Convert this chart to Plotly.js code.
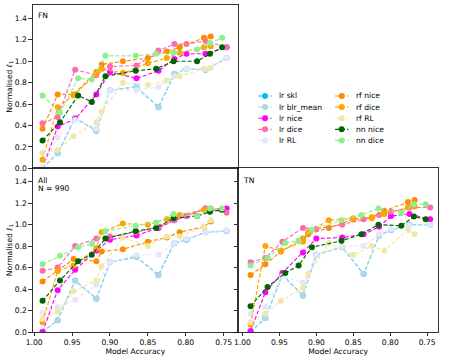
<!DOCTYPE html>
<html>
<head>
<meta charset="utf-8">
<script src="https://cdn.plot.ly/plotly-3.0.1.min.js"></script>
<style>
  html, body { margin: 0; padding: 0; background: #fff; }
  #plot { width: 449px; height: 360px; }
</style>
</head>
<body>
<div id="plot"></div>
<script>
// model accuracies (x) per model family
const lrAcc = [0.989, 0.969, 0.946, 0.918, 0.900, 0.865, 0.836, 0.815, 0.799, 0.774, 0.746];
const rfAcc = [0.989, 0.969, 0.948, 0.918, 0.911, 0.883, 0.850, 0.825, 0.808, 0.776, 0.767];
const nnAcc = [0.989, 0.966, 0.942, 0.924, 0.906, 0.866, 0.839, 0.816, 0.785, 0.768, 0.752];

const seriesNames = ["lr skl", "lr blr_mean", "lr nice", "lr dice", "lr RL",
                     "rf nice", "rf dice", "rf RL", "nn nice", "nn dice"];

// FN panel
const fnLrSkl  = [0.00, 0.14, 0.47, 0.35, 0.73, 0.76, 0.57, 0.88, 0.93, 0.92, 1.03];
const fnLrBlr  = [0.00, 0.14, 0.47, 0.35, 0.73, 0.76, 0.57, 0.88, 0.93, 0.92, 1.03];
const fnLrNice = [0.00, 0.39, 0.46, 0.69, 0.90, 0.84, 0.91, 1.02, 1.07, 1.07, 1.13];
const fnLrDice = [0.42, 0.48, 0.92, 0.87, 0.95, 0.96, 1.10, 1.16, 1.16, 1.19, 1.13];
const fnLrRL   = [0.01, 0.29, 0.45, 0.37, 0.73, 0.73, 0.76, 0.86, 0.93, 0.93, 1.03];
const fnRfNice = [0.37, 0.69, 0.69, 0.90, 0.97, 1.00, 1.03, 1.09, 1.13, 1.22, 1.23];
const fnRfDice = [0.08, 0.57, 0.68, 0.88, 0.93, 0.89, 0.98, 1.03, 1.08, 1.13, 1.14];
const fnRfRL   = [0.14, 0.17, 0.30, 0.43, 0.53, 0.80, 0.78, 0.82, 0.86, 0.93, 0.94];
const fnNnNice = [0.26, 0.43, 0.68, 0.62, 0.86, 0.91, 0.93, 1.00, 1.00, 1.07, 1.13];
const fnNnDice = [0.68, 0.52, 0.84, 0.83, 1.05, 1.05, 1.07, 1.08, 1.11, 1.17, 1.22];

// All panel
const allLrSkl  = [0.00, 0.11, 0.48, 0.31, 0.65, 0.70, 0.53, 0.83, 0.86, 0.93, 0.94];
const allLrBlr  = [0.00, 0.11, 0.48, 0.31, 0.65, 0.70, 0.53, 0.83, 0.86, 0.93, 0.94];
const allLrNice = [0.00, 0.39, 0.58, 0.76, 0.86, 0.90, 0.97, 1.04, 1.08, 1.15, 1.15];
const allLrDice = [0.57, 0.60, 0.80, 0.87, 0.89, 0.93, 0.98, 1.04, 1.08, 1.15, 1.11];
const allLrRL   = [0.18, 0.23, 0.30, 0.44, 0.65, 0.72, 0.72, 0.83, 0.87, 0.93, 0.95];
const allRfNice = [0.47, 0.57, 0.68, 0.66, 0.75, 0.77, 0.84, 0.88, 0.93, 0.98, 1.03];
const allRfDice = [0.09, 0.57, 0.62, 0.78, 0.93, 1.01, 1.00, 1.05, 1.09, 1.14, 1.15];
const allRfRL   = [0.12, 0.19, 0.38, 0.48, 0.61, 0.88, 0.80, 0.89, 0.89, 0.98, 1.04];
const allNnNice = [0.29, 0.48, 0.66, 0.72, 0.87, 0.94, 0.97, 1.06, 1.08, 1.12, 1.14];
const allNnDice = [0.63, 0.71, 0.79, 0.82, 0.94, 0.99, 1.02, 1.10, 1.08, 1.15, 1.15];

// TN panel
const tnLrSkl  = [0.00, 0.13, 0.53, 0.34, 0.72, 0.79, 0.54, 0.90, 0.95, 1.00, 1.00];
const tnLrBlr  = [0.00, 0.13, 0.53, 0.34, 0.72, 0.79, 0.54, 0.90, 0.95, 1.00, 1.00];
const tnLrNice = [0.01, 0.37, 0.55, 0.74, 0.87, 0.88, 0.91, 0.98, 1.08, 1.10, 1.05];
const tnLrDice = [0.65, 0.69, 0.84, 0.97, 0.96, 1.00, 1.05, 1.09, 1.12, 1.16, 1.16];
const tnLrRL   = [0.17, 0.23, 0.52, 0.46, 0.72, 0.80, 0.80, 0.91, 0.96, 0.99, 1.00];
const tnRfNice = [0.53, 0.63, 0.75, 0.87, 0.91, 0.97, 1.05, 1.07, 1.13, 1.21, 1.23];
const tnRfDice = [0.07, 0.80, 0.76, 0.84, 0.93, 1.04, 1.06, 1.06, 1.10, 1.16, 1.17];
const tnRfRL   = [0.09, 0.17, 0.29, 0.41, 0.54, 0.83, 0.72, 0.80, 0.76, 0.95, 0.91];
const tnNnNice = [0.24, 0.42, 0.55, 0.62, 0.79, 0.85, 0.91, 1.00, 0.99, 1.075, 1.05];
const tnNnDice = [0.62, 0.69, 0.83, 0.85, 0.95, 1.04, 1.09, 1.15, 1.11, 1.19, 1.19];

const colours = ["#00bfff", "#add8e6", "#ff00ff", "#ff69b4", "#e6e6fa",
                 "#ff8c00", "#ffa500", "#eee8aa", "#006400", "#90ee90"];
const accs = [lrAcc, lrAcc, lrAcc, lrAcc, lrAcc, rfAcc, rfAcc, rfAcc, nnAcc, nnAcc];

const panels = [
  { xa: "x", ya: "y", vals: [fnLrSkl, fnLrBlr, fnLrNice, fnLrDice, fnLrRL, fnRfNice, fnRfDice, fnRfRL, fnNnNice, fnNnDice] },
  { xa: "x2", ya: "y2", vals: [allLrSkl, allLrBlr, allLrNice, allLrDice, allLrRL, allRfNice, allRfDice, allRfRL, allNnNice, allNnDice] },
  { xa: "x3", ya: "y3", vals: [tnLrSkl, tnLrBlr, tnLrNice, tnLrDice, tnLrRL, tnRfNice, tnRfDice, tnRfRL, tnNnNice, tnNnDice] },
];

const FONT = "DejaVu Sans, sans-serif";
const FS = 7.6;
const DASH = "4px,2px";

const data = [];
panels.forEach((p) => {
  seriesNames.forEach((name, i) => {
    data.push({
      x: accs[i],
      y: p.vals[i],
      xaxis: p.xa,
      yaxis: p.ya,
      type: "scatter",
      mode: "lines+markers",
      name: name,
      line: { color: colours[i], width: 1.15, dash: DASH },
      marker: { color: colours[i], size: 6 },
      showlegend: false,
      hoverinfo: "skip",
    });
  });
});

// pixel -> paper helpers
const W = 449, H = 360;
const px = (v) => v / W;
const py = (v) => 1 - v / H;

// hand-made legend (matplotlib style, two columns of five)
const shapes = [];
const annotations = [];
seriesNames.forEach((name, i) => {
  const col = i < 5 ? 0 : 1;
  const row = i % 5;
  const x0 = 258.3 + col * 76.7;
  const yy = 96 + row * 11.1;
  const cx = x0 + 6.7;
  shapes.push({
    type: "line", xref: "paper", yref: "paper",
    x0: px(x0), x1: px(x0 + 13.4), y0: py(yy), y1: py(yy),
    line: { color: colours[i], width: 1.15, dash: DASH },
  });
  shapes.push({
    type: "circle", xref: "paper", yref: "paper",
    x0: px(cx - 3), x1: px(cx + 3), y0: py(yy + 3), y1: py(yy - 3),
    fillcolor: colours[i], line: { width: 0 },
  });
  annotations.push({
    text: name, xref: "paper", yref: "paper",
    x: px(x0 + 18.5), y: py(yy), xanchor: "left", yanchor: "middle",
    showarrow: false, font: { family: FONT, size: FS, color: "#000" },
  });
});

const label = (text, x, y) => ({
  text: text, xref: "paper", yref: "paper", x: px(x), y: py(y),
  xanchor: "left", yanchor: "middle", showarrow: false,
  font: { family: FONT, size: FS, color: "#000" },
});
annotations.push(label("FN", 35.5, 15.8));
annotations.push(label("All", 35.5, 180.2));
annotations.push(label("N = 990", 35.5, 188.5));
annotations.push(label("TN", 240.5, 180.2));

const axisBase = {
  showline: true, mirror: true, linecolor: "#000", linewidth: 0.8,
  showgrid: false, zeroline: false,
  ticks: "outside", ticklen: 3.5, tickwidth: 0.8, tickcolor: "#000",
  tickfont: { family: FONT, size: FS, color: "#000" },
};
const xLeft = [px(32.7), px(238)];
const xRight = [px(238), px(438.3)];
const yTop = [py(168.3), py(5)];
const yBot = [py(332), py(168.3)];
const yTitle = { text: "Normalised <i>ℓ</i><sub>1</sub>", font: { family: FONT, size: FS, color: "#000" }, standoff: 1 };
const xTitle = { text: "Model Accuracy", font: { family: FONT, size: FS, color: "#000" }, standoff: 1 };

const layout = {
  width: W, height: H,
  margin: { l: 0, r: 0, t: 0, b: 0 },
  paper_bgcolor: "#fff", plot_bgcolor: "#fff",
  font: { family: FONT, size: FS, color: "#000" },
  showlegend: false,
  xaxis: { ...axisBase, domain: xLeft, anchor: "y", range: [1.002, 0.731], showticklabels: false, ticks: "" },
  yaxis: { ...axisBase, domain: yTop, anchor: "x", range: [0, 1.525], dtick: 0.2, tick0: 0, tickformat: ".1f", title: yTitle },
  xaxis2: { ...axisBase, domain: xLeft, anchor: "y2", range: [1.002, 0.731], dtick: 0.05, tick0: 0, tickformat: ".2f", title: xTitle },
  yaxis2: { ...axisBase, domain: yBot, anchor: "x2", range: [0, 1.525], dtick: 0.2, tick0: 0, tickformat: ".1f", title: yTitle },
  xaxis3: { ...axisBase, domain: xRight, anchor: "y3", range: [1.006, 0.735], dtick: 0.05, tick0: 0, tickformat: ".2f", title: xTitle },
  yaxis3: { ...axisBase, domain: yBot, anchor: "x3", range: [0, 1.525], dtick: 0.2, tick0: 0, showticklabels: false },
  shapes: shapes,
  annotations: annotations,
};

Plotly.newPlot("plot", data, layout, { displayModeBar: false, staticPlot: true });
</script>
</body>
</html>
